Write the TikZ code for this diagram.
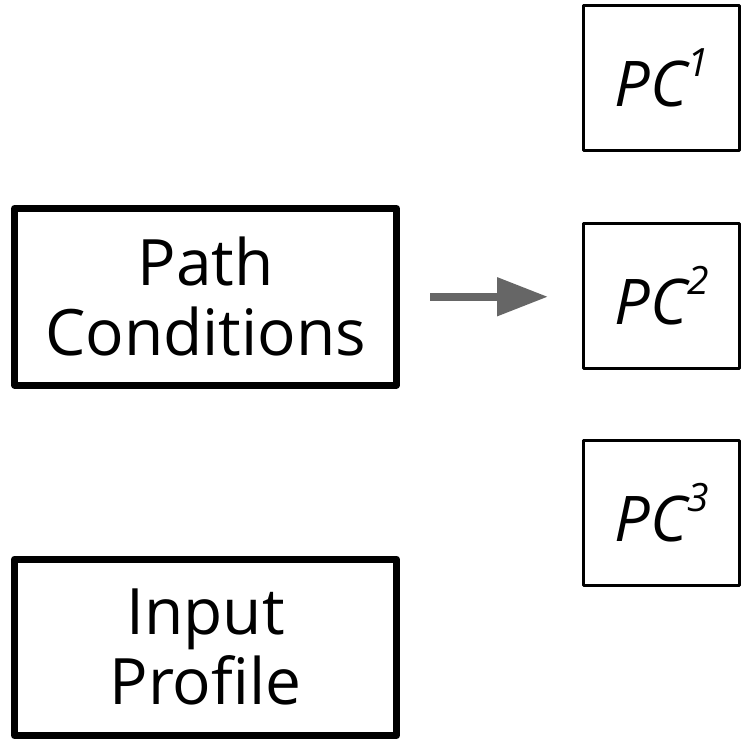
\documentclass[tikz,border=0pt]{standalone}
\usepackage{fontspec}
\setmainfont{Open Sans}
\usetikzlibrary{arrows.meta}

% italic PC with a raised index
\newcommand{\pcidx}[1]{\itshape PC\raisebox{30pt}{\fontsize{39}{39}\selectfont #1}}

\begin{document}
\begin{tikzpicture}[x=1pt,y=-1pt,line join=round,
bigblock/.style={draw,rectangle,line width=7pt,minimum width=382pt,minimum height=176.5pt,
  align=center,inner sep=0pt,font=\fontsize{64}{70}\selectfont},
pcblock/.style={draw,rectangle,line width=3pt,minimum width=156pt,minimum height=145pt,
  inner sep=0pt,font=\fontsize{63}{70}\selectfont}]
\useasboundingbox (0,0) rectangle (741,739);
\draw (205.5,296.75) node[bigblock] (pathc) {Path\\Conditions};
\draw (205.5,647.25) node[bigblock] (input) {Input\\Profile};
\draw (661.5,77.5) node[pcblock] (pc1) {\pcidx{1}};
\draw (661.5,295.5) node[pcblock] (pc2) {\pcidx{2}};
\draw (661.5,512.5) node[pcblock] (pc3) {\pcidx{3}};
\draw[-{Triangle[length=51pt,width=37pt]},line width=8pt,draw={rgb,255:red,102;green,102;blue,102},
  shorten <=30pt,shorten >=34pt] (pathc.east) -- (pathc.east -| pc2.west);

\end{tikzpicture}
\end{document}
